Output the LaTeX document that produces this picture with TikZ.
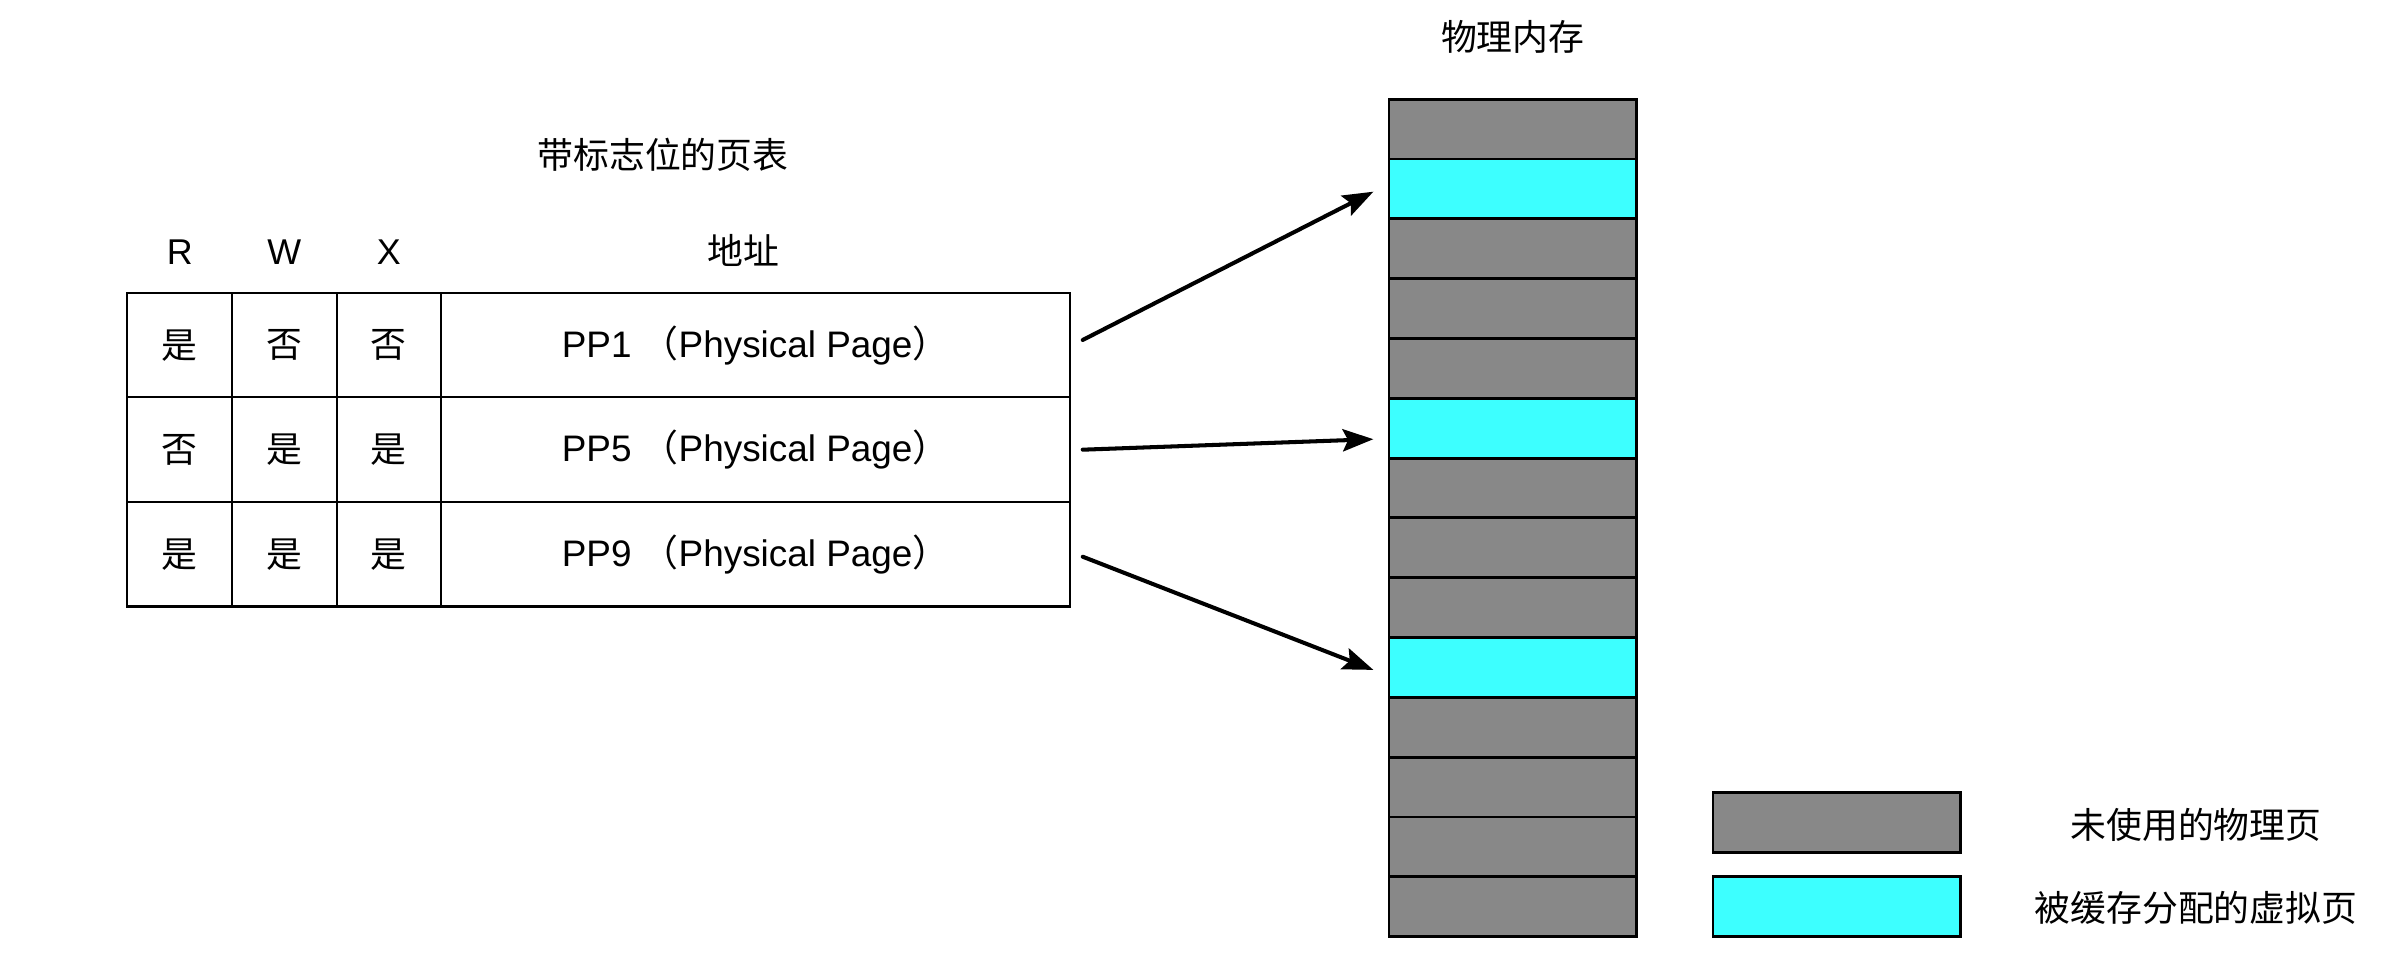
\documentclass[tikz,border=0pt]{standalone}
\usepackage{fontspec}
\setmainfont{Liberation Sans}
\newfontfamily\cjk{Noto Sans CJK SC}
\usetikzlibrary{positioning}
\usetikzlibrary{arrows.meta}
\definecolor{memgray}{RGB}{136,136,136}
\definecolor{memcyan}{RGB}{61,255,255}

\begin{document}
\begin{tikzpicture}[
  cell/.style={draw,line width=0.6pt,outer sep=0pt,inner sep=0pt,minimum width=1.046cm,minimum height=1.045cm,font=\fontsize{10.2}{12}\cjk},
  addr/.style={cell,minimum width=6.288cm,font=\fontsize{10.5}{12}\selectfont},
  head/.style={font=\fontsize{10.2}{12}\selectfont},
  title/.style={font=\fontsize{10.2}{12}\cjk},
  page/.style={draw,line width=0.8pt,outer sep=0pt,inner sep=0pt,minimum width=2.473cm,minimum height=0.598cm,fill=memgray},
  cached/.style={page,fill=memcyan},
  ptr/.style={-{Stealth[length=8.7pt,width=6.3pt,inset=1.5pt]},line width=1.15pt,line cap=round}]
  \useasboundingbox (0,0) rectangle (23.82,-9.62);

  %page table
  \foreach \r/\a/\b/\c/\n in {1/是/否/否/1,2/否/是/是/5,3/是/是/是/9}{
    \node[cell] (a\r) at (1.797,{-3.452-1.045*(\r-1)}) {\a};
    \node[cell,right=0pt of a\r] (b\r) {\b};
    \node[cell,right=0pt of b\r] (c\r) {\c};
    \node[addr,right=0pt of c\r] (d\r) {PP\n\ {\cjk （}Physical Page{\cjk ）}};
  }
  \coordinate (hy) at (0,-2.52);
  \node[head] (hr) at (a1 |- hy) {R};
  \node[head] (hw) at (b1 |- hy) {W};
  \node[head] (hx) at (c1 |- hy) {X};
  \node[title] (ha) at (7.43,-2.50) {地址};
  \node[title] (tt) at (6.63,-1.55) {带标志位的页表};

  %memory
  \foreach \i in {1,...,14}
    \node[page] (m\i) at (15.127,{-0.993-0.598*(\i-0.5)}) {};
  \foreach \i in {2,6,10}
    \node[cached] (m\i) at (m\i) {};
  \node[title] (mt) at (15.127,-0.37) {物理内存};

  %pointers
  \draw[ptr] ([xshift=0.127cm,yshift=0.052cm]d1.east) -- ([xshift=-0.157cm,yshift=-0.027cm]m2.west);
  \draw[ptr] ([xshift=0.127cm]d2.east) -- ([xshift=-0.157cm,yshift=-0.11cm]m6.west);
  \draw[ptr] ([xshift=0.127cm,yshift=-0.025cm]d3.east) -- ([xshift=-0.157cm,yshift=-0.025cm]m10.west);

  %legend
  \node[page] (lg) at (18.367,-8.225) {};
  \node[cached] (lc) at (18.367,-9.065) {};
  \node[title] (lgt) at (21.96,-8.25) {未使用的物理页};
  \node[title] (lct) at (21.96,-9.08) {被缓存分配的虚拟页};
\end{tikzpicture}
\end{document}
